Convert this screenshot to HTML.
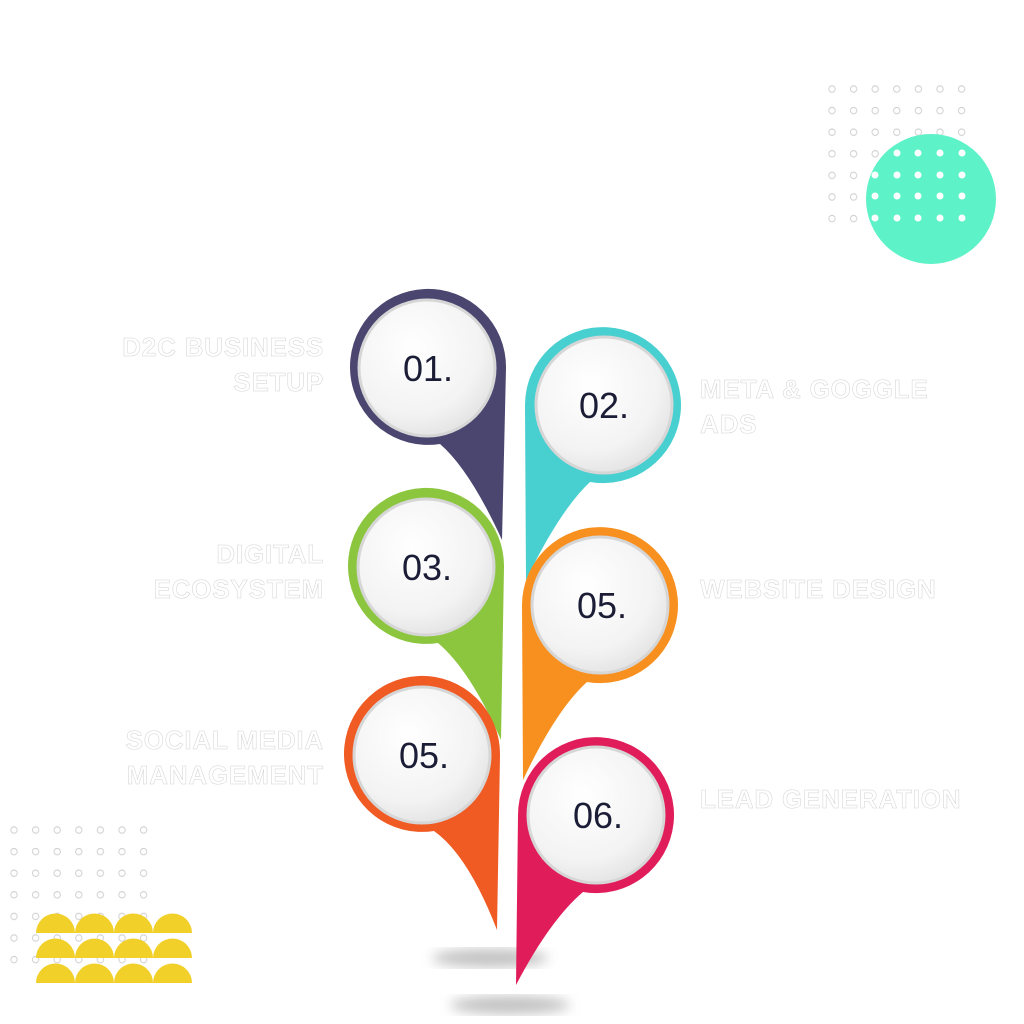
<!DOCTYPE html>
<html><head><meta charset="utf-8"><style>
body{margin:0;width:1024px;height:1024px;background:#fff;overflow:hidden;position:relative;font-family:"Liberation Sans",sans-serif}
.lbl{position:absolute;font-weight:bold;font-size:26px;line-height:35px;color:#fff;-webkit-text-stroke:0.5px #d2d2d2;letter-spacing:0.8px}
.r{text-align:right}
</style></head><body>
<svg width="1024" height="1024" style="position:absolute;left:0;top:0">
<defs>
<radialGradient id="w" cx="40%" cy="35%" r="70%"><stop offset="0" stop-color="#ffffff"/><stop offset="0.7" stop-color="#f3f3f3"/><stop offset="1" stop-color="#e2e2e2"/></radialGradient>
<filter id="b"><feGaussianBlur stdDeviation="6"/></filter>
<pattern id="gd" x="821" y="78" width="21.6" height="21.6" patternUnits="userSpaceOnUse"><circle cx="11" cy="11" r="3.2" fill="none" stroke="#cfcfcf" stroke-width="1"/></pattern>
<pattern id="gd2" x="3" y="819" width="21.6" height="21.6" patternUnits="userSpaceOnUse"><circle cx="11" cy="11" r="3.2" fill="none" stroke="#cfcfcf" stroke-width="1"/></pattern>
</defs>
<rect x="821" y="78" width="151" height="151" fill="url(#gd)"/>
<circle cx="931" cy="199" r="65" fill="#5df2c7"/>
<g fill="#fff">
<circle cx="897" cy="153" r="3.5"/><circle cx="918" cy="153" r="3.5"/><circle cx="940" cy="153" r="3.5"/><circle cx="962" cy="153" r="3.5"/>
<circle cx="875" cy="175" r="3.5"/><circle cx="897" cy="175" r="3.5"/><circle cx="918" cy="175" r="3.5"/><circle cx="940" cy="175" r="3.5"/><circle cx="962" cy="175" r="3.5"/>
<circle cx="875" cy="196" r="3.5"/><circle cx="897" cy="196" r="3.5"/><circle cx="918" cy="196" r="3.5"/><circle cx="940" cy="196" r="3.5"/><circle cx="962" cy="196" r="3.5"/>
<circle cx="875" cy="218" r="3.5"/><circle cx="897" cy="218" r="3.5"/><circle cx="918" cy="218" r="3.5"/><circle cx="940" cy="218" r="3.5"/><circle cx="962" cy="218" r="3.5"/>
</g>
<rect x="3" y="819" width="151" height="151" fill="url(#gd2)"/>
<g fill="#f2d02a">
<path d="M36 933 A19.5 19.5 0 0 1 75 933Z M75 933 A19.5 19.5 0 0 1 114 933Z M114 933 A19.5 19.5 0 0 1 153 933Z M153 933 A19.5 19.5 0 0 1 192 933Z"/>
<path d="M36 958 A19.5 19.5 0 0 1 75 958Z M75 958 A19.5 19.5 0 0 1 114 958Z M114 958 A19.5 19.5 0 0 1 153 958Z M153 958 A19.5 19.5 0 0 1 192 958Z"/>
<path d="M36 983 A19.5 19.5 0 0 1 75 983Z M75 983 A19.5 19.5 0 0 1 114 983Z M114 983 A19.5 19.5 0 0 1 153 983Z M153 983 A19.5 19.5 0 0 1 192 983Z"/>
</g>
<ellipse cx="490" cy="958" rx="58" ry="9" fill="#999" filter="url(#b)" opacity="0.6"/>
<ellipse cx="510" cy="1005" rx="60" ry="9" fill="#999" filter="url(#b)" opacity="0.6"/>
<path d="M506 368 L502 540 Q470 470 440 444 A78 78 0 1 1 506 368Z" fill="#4a466f"/>
<path d="M504 567 L501 740 Q470 670 438 643 A78 78 0 1 1 504 567Z" fill="#8cc63f"/>
<path d="M500 755 L497 930 Q468 855 434 831 A78 78 0 1 1 500 755Z" fill="#f05a23"/>
<path d="M525 405 L526 580 Q560 510 590 482 A78 78 0 1 0 525 405Z" fill="#48cfd0"/>
<path d="M522 605 L523 780 Q556 710 587 682 A78 78 0 1 0 522 605Z" fill="#f7901e"/>
<path d="M518 815 L516 985 Q550 920 583 892 A78 78 0 1 0 518 815Z" fill="#e01d5a"/>
<g fill="url(#w)" stroke="#d6d6d6" stroke-width="3">
<circle cx="427" cy="368" r="68"/><circle cx="604" cy="405" r="68"/>
<circle cx="426" cy="567" r="68"/><circle cx="600" cy="605" r="68"/>
<circle cx="422" cy="755" r="68"/><circle cx="596" cy="815" r="68"/>
</g>
<g font-family="Liberation Sans, sans-serif" font-size="36" fill="#1b1c35" text-anchor="middle">
<text x="428" y="381">01.</text><text x="604" y="418">02.</text>
<text x="427" y="580">03.</text><text x="602" y="618">05.</text>
<text x="424" y="768">05.</text><text x="598" y="828">06.</text>
</g>
</svg>
<div class="lbl r" style="right:700px;top:330px">D2C BUSINESS<br>SETUP</div>
<div class="lbl" style="left:700px;top:372px">META &amp; GOGGLE<br>ADS</div>
<div class="lbl r" style="right:700px;top:537px">DIGITAL<br>ECOSYSTEM</div>
<div class="lbl" style="left:700px;top:572px">WEBSITE DESIGN</div>
<div class="lbl r" style="right:700px;top:723px">SOCIAL MEDIA<br>MANAGEMENT</div>
<div class="lbl" style="left:700px;top:782px">LEAD GENERATION</div>
</body></html>
